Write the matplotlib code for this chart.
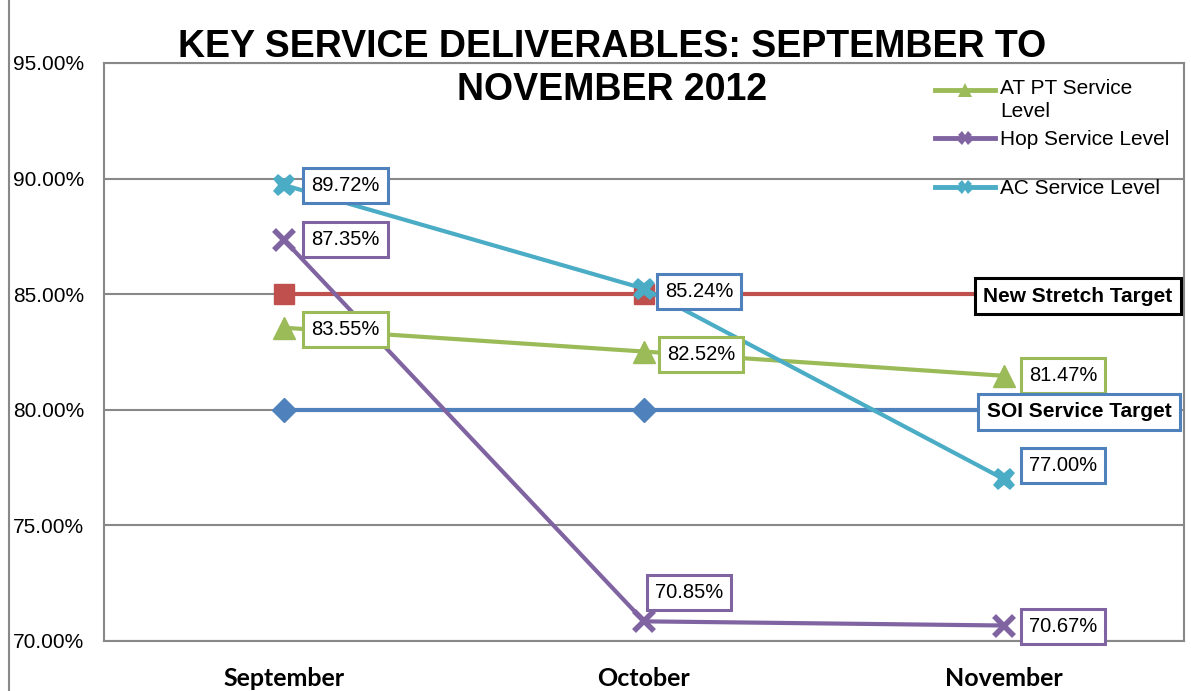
import matplotlib
matplotlib.use("Agg")
import matplotlib.pyplot as plt
from matplotlib.lines import Line2D

months = ["September", "October", "November"]
at_pt = [83.55, 82.52, 81.47]
hop = [87.35, 70.85, 70.67]
ac = [89.72, 85.24, 77.00]
stretch = [85.0, 85.0, 85.0]
soi = [80.0, 80.0, 80.0]
yticks = [70, 75, 80, 85, 90, 95]
title_lines = ["KEY SERVICE DELIVERABLES: SEPTEMBER TO", "NOVEMBER 2012"]

GREEN = "#9BBB59"
PURPLE = "#8064A2"
CYAN = "#4BACC6"
RED = "#C0504D"
BLUE = "#4F81BD"
GRID = "#888888"

plt.rcParams["font.family"] = ["Liberation Sans", "DejaVu Sans"]

W, H = 1191, 691
fig = plt.figure(figsize=(W / 100, H / 100), dpi=100)
ax = fig.add_axes([104 / W, 1 - 641 / H, (1184 - 104) / W, (641 - 63) / H])

x = list(range(len(months)))
lw = 3.0
ax.plot(x, soi, color=BLUE, lw=lw, marker="D", ms=12, zorder=3)
ax.plot(x, stretch, color=RED, lw=lw, marker="s", ms=14, zorder=3)
ax.plot(x, at_pt, color=GREEN, lw=lw, marker="^", ms=16, zorder=4)
ax.plot(x, hop, color=PURPLE, lw=lw, marker="x", ms=14, mew=4, zorder=5)
ax.plot(x, ac, color=CYAN, lw=lw, marker="X", ms=16, mew=0, zorder=6)

ax.set_xlim(-0.5, 2.5)
ax.set_ylim(70, 95)
ax.set_yticks(yticks)
ax.set_yticklabels([f"{v:.2f}%" for v in yticks])
ax.set_xticks(x)
ax.set_xticklabels(months, fontfamily="Lato", fontweight="bold", fontsize=18)
ax.tick_params(axis="y", length=0, pad=65.5, labelsize=15)
ax.tick_params(axis="x", length=0, pad=18.5)
for lab in ax.get_yticklabels():
    lab.set_horizontalalignment("left")
ax.grid(axis="y", color=GRID, lw=1.5)
ax.set_axisbelow(True)
for s in ["left", "bottom", "right", "top"]:
    ax.spines[s].set_color(GRID)
    ax.spines[s].set_linewidth(1.5)


def label(xi, yi, txt, color, dx, dy, ha="left", bold=False, fs=14.5):
    ax.annotate(txt, (xi, yi), xytext=(dx, dy), textcoords="offset points",
                ha=ha, va="center", fontsize=fs,
                fontweight="bold" if bold else "normal", color="black",
                bbox=dict(boxstyle="square,pad=0.4", fc="white", ec=color, lw=2.2),
                zorder=10)


label(0, ac[0], f"{ac[0]:.2f}%", BLUE, 19.5, 0)
label(0, hop[0], f"{hop[0]:.2f}%", PURPLE, 19.5, 0)
label(0, at_pt[0], f"{at_pt[0]:.2f}%", GREEN, 19.5, -1)
label(1, ac[1], f"{ac[1]:.2f}%", BLUE, 15, -2)
label(1, at_pt[1], f"{at_pt[1]:.2f}%", GREEN, 16.5, -2)
label(1, hop[1], f"{hop[1]:.2f}%", PURPLE, 8, 20.5)
label(2, at_pt[2], f"{at_pt[2]:.2f}%", GREEN, 18, 0)
label(2, ac[2], f"{ac[2]:.2f}%", BLUE, 18, 10)
label(2, hop[2], f"{hop[2]:.2f}%", PURPLE, 18, -0.5)
label(2, stretch[2], "New Stretch Target", "black", 53, -1.5, ha="center", bold=True, fs=15)
label(2, soi[2], "SOI Service Target", BLUE, 54, -1.5, ha="center", bold=True, fs=15)

# Title (two lines, baselines as in the reference)
for line, base in zip(title_lines, [57, 100]):
    fig.text(612 / W, 1 - base / H, line, ha="center", va="baseline",
             fontsize=27, fontweight="bold")

# Legend (manual)
leg = [("AT PT Service\nLevel", GREEN, "^", 90), ("Hop Service Level", PURPLE, "X", 138),
       ("AC Service Level", CYAN, "X", 187)]
for txt, col, mk, ypx in leg:
    yf = 1 - ypx / H
    fig.add_artist(Line2D([935 / W, 995 / W], [yf, yf], color=col, lw=3.5,
                          transform=fig.transFigure))
    fig.add_artist(Line2D([965 / W], [yf], color=col, marker=mk, ms=10, mew=0,
                          transform=fig.transFigure))
    if "\n" in txt:
        fig.text(1000 / W, 1 - 79 / H, txt, ha="left", va="top", fontsize=15,
                 linespacing=1.25)
    else:
        fig.text(1000 / W, 1 - (ypx + 7) / H, txt, ha="left", va="baseline", fontsize=15)

# outer left border
fig.add_artist(Line2D([9 / W, 9 / W], [0, 1], color=GRID, lw=1.5, transform=fig.transFigure))

fig.savefig("out.png", dpi=100)
